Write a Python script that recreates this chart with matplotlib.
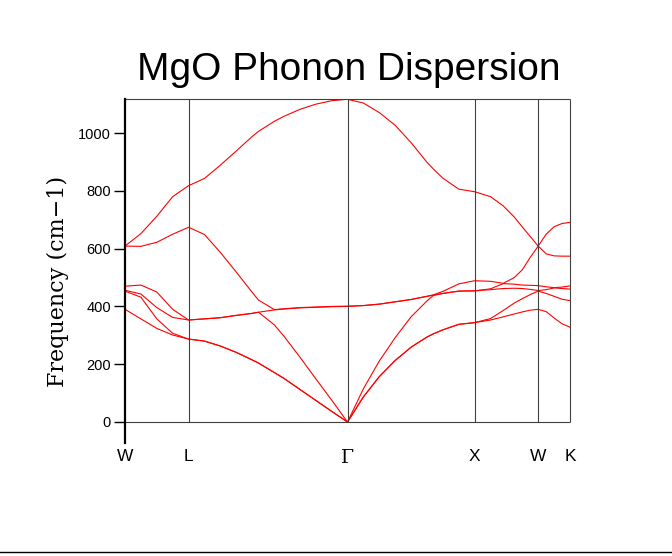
import matplotlib
matplotlib.use("Agg")
import matplotlib.pyplot as plt
from matplotlib.lines import Line2D

# path coordinate along W-L-Gamma-X-W-K
kpath = [0, 0.5, 1, 1.5, 2,
         2.5, 3, 3.5, 4, 4.2, 4.7, 5, 5.5, 6, 6.5, 7,
         7.5, 8, 8.5, 9, 9.5, 9.7, 10, 10.5, 11,
         11.5, 11.9, 12.25, 12.5, 12.75, 13,
         13.25, 13.5, 13.75, 14]

sym_pos = [0, 2, 7, 11, 13, 14]
sym_labels = ["W", "L", "Γ", "X", "W", "K"]

# frequencies in cm-1, bands sorted from lowest to highest
band1 = [390, 357, 324, 301, 287,
         280, 263, 241, 215, 204, 171, 151, 113, 75, 37, 0,
         87, 157, 213, 259, 294, 305, 319, 338, 344,
         353, 364, 374, 381, 387, 390,
         382, 360, 340, 328]
band2 = [453, 432, 357, 307, 287,
         280, 263, 241, 215, 204, 171, 151, 113, 75, 37, 0,
         87, 157, 213, 259, 294, 305, 319, 338, 344,
         358, 386, 412, 427, 441, 453,
         445, 435, 425, 420]
band3 = [456, 443, 396, 362, 353,
         357, 361, 369, 376, 380, 336, 297, 225, 150, 76, 0,
         115, 211, 292, 364, 419, 438, 445, 453, 454,
         458, 462, 463, 462, 459, 455,
         458, 464, 462, 460]
band4 = [470, 474, 450, 390, 353,
         357, 361, 369, 376, 380, 388, 391, 395, 397, 399, 400,
         403, 408, 416, 424, 435, 439, 445, 453, 454,
         461, 479, 477, 474, 473, 472,
         468, 465, 467, 471]
band5 = [609, 608, 622, 650, 674,
         649, 587, 519, 449, 422, 389, 392, 396, 398, 400, 401,
         403, 408, 416, 424, 435, 440, 452, 478, 489,
         487, 480, 500, 527, 570, 609,
         582, 575, 574, 574]
band6 = [609, 652, 712, 780, 818,
         843, 889, 938, 988, 1006, 1041, 1058, 1082, 1100, 1112, 1117,
         1104, 1071, 1027, 967, 899, 876, 844, 806, 797,
         780, 748, 709, 675, 642, 609,
         650, 676, 687, 691]

yticks = [0, 200, 400, 600, 800, 1000]
ytop = 1118

fig = plt.figure(figsize=(6.72, 5.56), dpi=100)
ax = fig.add_axes([125 / 672, 113 / 556, 445 / 672, 344 / 556])

for band in [band1, band2, band3, band4, band5, band6]:
    ax.plot(kpath, band, color="#ff0000", lw=0.8)

ax.set_xlim(0, 14)
ax.set_ylim(-72.7, ytop)

# frame lines and symmetry point lines
ax.vlines(sym_pos[1:], 0, ytop, colors="#404040", lw=0.8, clip_on=False)
ax.hlines([0, ytop], 0, 14, colors="#404040", lw=0.8, clip_on=False)

for s in ["top", "right", "bottom"]:
    ax.spines[s].set_visible(False)
ax.spines["left"].set_linewidth(1.6)
ax.spines["left"].set_color("black")

ax.set_yticks(yticks)
ax.tick_params(axis="y", direction="out", length=8, width=1, labelsize=10.5, pad=2)
for lab in ax.get_yticklabels():
    lab.set_fontfamily("Liberation Sans")

ax.set_xticks(sym_pos)
ax.set_xticklabels(sym_labels)
ax.tick_params(axis="x", length=0, pad=4.5, labelsize=12.5)
for lab in ax.get_xticklabels():
    lab.set_fontfamily("Liberation Sans")
ax.get_xticklabels()[2].set_fontfamily("DejaVu Serif")
ax.get_xticklabels()[2].set_fontsize(13.5)

fig.text(348.5 / 672, 1 - 80 / 556, "MgO Phonon Dispersion", ha="center",
         va="baseline", fontsize=28, family="Liberation Sans")
fig.text(58 / 672, 1 - 281 / 556, "Frequency (cm\u22121)", rotation=90,
         ha="center", va="center", fontsize=16, family="DejaVu Serif")

fig.add_artist(Line2D([0, 1], [4 / 556, 4 / 556], transform=fig.transFigure,
                      color="black", lw=1))

fig.savefig("out.png", dpi=100)
